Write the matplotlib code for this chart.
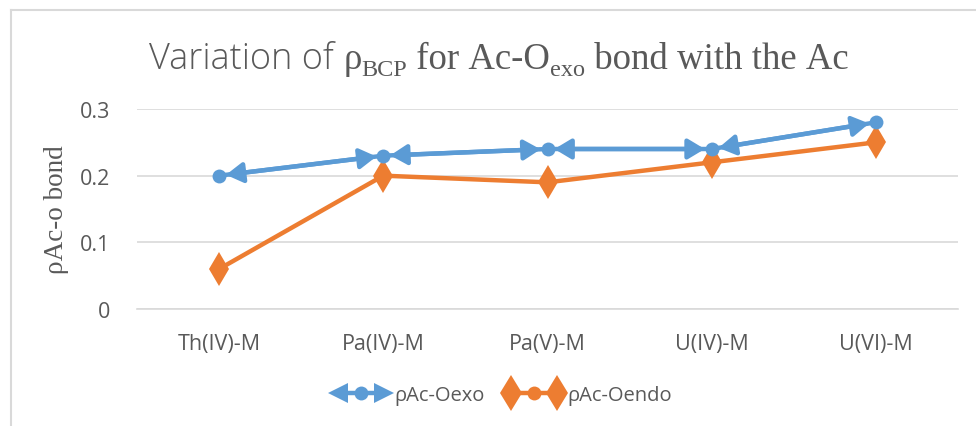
import numpy as np
import matplotlib
matplotlib.use("Agg")
import matplotlib.pyplot as plt
from matplotlib.lines import Line2D
from matplotlib.legend_handler import HandlerBase

# ------------------------------------------------------------
# Donnees
# ------------------------------------------------------------
categories = ["Th(IV)-M", "Pa(IV)-M", "Pa(V)-M", "U(IV)-M", "U(VI)-M"]
rho_exo = [0.20, 0.23, 0.24, 0.24, 0.28]
rho_endo = [0.06, 0.20, 0.19, 0.22, 0.25]
yticks = [0, 0.1, 0.2, 0.3]

blue = "#5b9bd5"
orange = "#ed7d31"
grey_txt = "#595959"
grid_col = "#d9d9d9"

W, H = 976, 427
fig = plt.figure(figsize=(W / 100, H / 100), dpi=100)

# zone de trace (pixels -> fraction)
left, right, top, bottom = 137, 958, 110, 310
ax = fig.add_axes([left / W, 1 - bottom / H, (right - left) / W, (bottom - top) / H])

x = np.arange(len(categories))

ax.plot(x, rho_endo, color=orange, linewidth=3.2, marker="d",
        markersize=17, markeredgewidth=0, zorder=3, solid_capstyle="butt")
ax.plot(x, rho_exo, color=blue, linewidth=3.2, marker="o",
        markersize=10, markeredgewidth=0, zorder=4, solid_capstyle="butt")

# pointes de fleche aux deux bouts de chaque segment (style Excel)
for i in range(len(x) - 1):
    ax.annotate("", xy=(x[i + 1], rho_exo[i + 1]), xytext=(x[i], rho_exo[i]),
                arrowprops=dict(arrowstyle="<|-|>,head_length=1.0,head_width=0.6",
                                color=blue, lw=3.2, shrinkA=5, shrinkB=5),
                zorder=4)

ax.set_xlim(-0.5, len(x) - 0.5)
ax.set_ylim(0, 0.3)
ax.set_xticks(x)
ax.set_xticklabels(categories)
ax.set_yticks(yticks)
ax.set_yticklabels(["0", "0.1", "0.2", "0.3"])
ax.tick_params(axis="both", length=0, labelsize=15.5, labelcolor=grey_txt)
ax.tick_params(axis="x", pad=17)
ax.tick_params(axis="y", pad=19)
for lab in ax.get_xticklabels() + ax.get_yticklabels():
    lab.set_fontfamily("Open Sans")

ax.grid(axis="y", color=grid_col, linewidth=1.2)
ax.set_axisbelow(True)
for s in ["top", "right", "left"]:
    ax.spines[s].set_visible(False)
ax.spines["bottom"].set_color(grid_col)
ax.spines["bottom"].set_linewidth(1.2)

ax.set_ylabel("ρAc-o bond", fontfamily="Liberation Serif", fontsize=19.5,
              color=grey_txt)
ax.yaxis.set_label_coords(-68 / (right - left), 0.5)

# ------------------------------------------------------------
# Titre en morceaux (sans + serif + indices)
# ------------------------------------------------------------
pieces = [
    ("Variation of ", "Open Sans", 26, 0),
    ("ρ", "Liberation Serif", 26.5, 0),
    ("BCP", "Liberation Serif", 17.5, -7),
    (" for Ac-O", "Liberation Serif", 26.5, 0),
    ("exo", "Liberation Serif", 17.5, -7),
    (" bond with the Ac", "Liberation Serif", 26.5, 0),
]
renderer = fig.canvas.get_renderer()
texts = []
xpos = 0.0
ybase = H - 69
for s, fam, fs, dy in pieces:
    t = fig.text(0, 0, s.replace(" ", "\u00a0"), fontfamily=fam, fontsize=fs,
                 color=grey_txt, transform=None, va="baseline",
                 fontweight="light" if fam == "Open Sans" else "normal")
    w = t.get_window_extent(renderer).width
    texts.append((t, xpos, dy))
    xpos += w
x0 = 499 - xpos / 2
for t, xp, dy in texts:
    t.set_position((x0 + xp, ybase + dy))


# ------------------------------------------------------------
# Legende : poignees style Excel (fleches / losanges aux bouts)
# ------------------------------------------------------------
class HandlerEnds(HandlerBase):
    def __init__(self, color, end_left, end_right, end_size):
        super().__init__()
        self.color = color
        self.ends = (end_left, end_right)
        self.end_size = end_size

    def create_artists(self, legend, orig_handle, xdescent, ydescent,
                       width, height, fontsize, trans):
        y = height / 2 - ydescent
        x0, x1 = -xdescent, width - xdescent
        line = Line2D([x0, x1], [y, y], color=self.color, linewidth=3.2,
                      transform=trans)
        mid = Line2D([(x0 + x1) / 2], [y], color=self.color, marker="o",
                     markersize=10, markeredgewidth=0, linestyle="",
                     transform=trans)
        lt = Line2D([x0], [y], color=self.color, marker=self.ends[0],
                    markersize=self.end_size, markeredgewidth=0,
                    linestyle="", transform=trans)
        rt = Line2D([x1], [y], color=self.color, marker=self.ends[1],
                    markersize=self.end_size, markeredgewidth=0,
                    linestyle="", transform=trans)
        return [line, mid, lt, rt]


h_exo = Line2D([], [], color=blue)
h_endo = Line2D([], [], color=orange)
leg = fig.legend([h_exo, h_endo], ["ρAc-Oexo", "ρAc-Oendo"],
                 loc="center", bbox_to_anchor=(505 / W, 1 - 396 / H),
                 ncol=2, frameon=False, handlelength=2.3, columnspacing=1.3,
                 handletextpad=0.5,
                 handler_map={h_exo: HandlerEnds(blue, "<", ">", 14),
                              h_endo: HandlerEnds(orange, "d", "d", 18)},
                 prop={"family": "Open Sans", "size": 14.5})
for t in leg.get_texts():
    t.set_color(grey_txt)

# cadre du graphique (bord gauche et haut)
fig.add_artist(Line2D([11 / W, 11 / W], [0, 1 - 11 / H], color=grid_col,
                      linewidth=1.5, transform=fig.transFigure))
fig.add_artist(Line2D([11 / W, 1], [1 - 11 / H, 1 - 11 / H], color=grid_col,
                      linewidth=1.5, transform=fig.transFigure))

fig.savefig("out.png", dpi=100)
